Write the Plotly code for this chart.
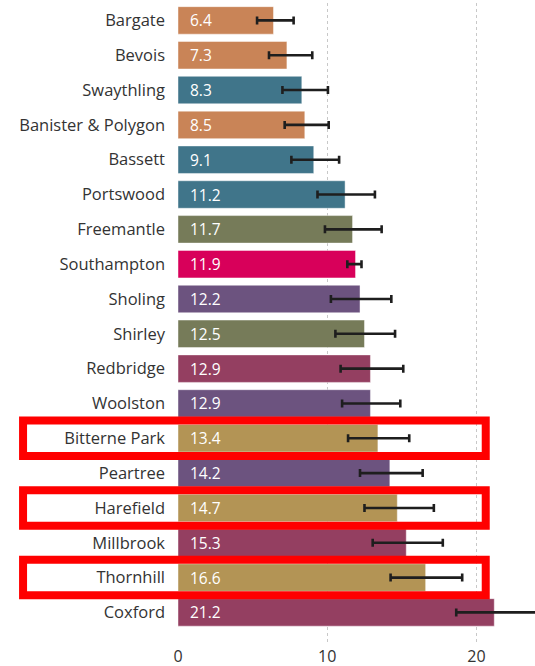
import plotly.graph_objects as go

wards = ["Bargate", "Bevois", "Swaythling", "Banister & Polygon", "Bassett", "Portswood",
         "Freemantle", "Southampton", "Sholing", "Shirley", "Redbridge", "Woolston",
         "Bitterne Park", "Peartree", "Harefield", "Millbrook", "Thornhill", "Coxford"]
values = [6.4, 7.3, 8.3, 8.5, 9.1, 11.2, 11.7, 11.9, 12.2, 12.5, 12.9, 12.9,
          13.4, 14.2, 14.7, 15.3, 16.6, 21.2]
ci_low = [5.3, 6.1, 7.0, 7.15, 7.6, 9.35, 9.85, 11.35, 10.25, 10.55, 10.9, 11.0,
          11.4, 12.2, 12.5, 13.05, 14.25, 18.65]
ci_high = [7.75, 9.0, 10.05, 10.1, 10.8, 13.2, 13.65, 12.3, 14.3, 14.55, 15.1, 14.9,
           15.5, 16.4, 17.15, 17.75, 19.05, 24.6]
groups = ["orange", "orange", "teal", "orange", "teal", "teal", "olive", "pink", "purple",
          "olive", "maroon", "purple", "gold", "purple", "gold", "maroon", "gold", "maroon"]
highlighted = ["Bitterne Park", "Harefield", "Thornhill"]
x_ticks = [0, 10, 20]

palette = {"orange": "#C98457", "teal": "#40758A", "olive": "#767B59", "pink": "#D8005A",
           "purple": "#6C537F", "maroon": "#943F61", "gold": "#B39455"}

FONT = "Open Sans"

fig = go.Figure()
fig.add_trace(go.Bar(
    y=wards, x=values, orientation="h",
    marker=dict(color=[palette[g] for g in groups],
                line=dict(color="rgba(255,255,255,0.45)", width=1)),
    error_x=dict(type="data", symmetric=False,
                 array=[h - v for h, v in zip(ci_high, values)],
                 arrayminus=[v - l for l, v in zip(ci_low, values)],
                 color="#1e1e1e", thickness=2.6, width=4),
    hoverinfo="skip",
))

for w, v in zip(wards, values):
    fig.add_annotation(x=0, y=w, xref="x", yref="y", text=f"{v:.1f}", showarrow=False,
                       xanchor="left", yanchor="middle", xshift=10,
                       font=dict(family=FONT, size=15.5, color="white"))

for w in highlighted:
    i = wards.index(w)
    fig.add_shape(type="rect", xref="paper", yref="y",
                  x0=-0.434, x1=0.862, y0=i - 0.51, y1=i + 0.51,
                  line=dict(color="#FF0000", width=8), fillcolor="rgba(0,0,0,0)",
                  layer="above")

fig.update_layout(
    width=535, height=666,
    margin=dict(l=178, r=0, t=3, b=24),
    paper_bgcolor="white", plot_bgcolor="white",
    bargap=0.21, showlegend=False,
    font=dict(family=FONT),
    xaxis=dict(range=[0, 23.93], tickvals=x_ticks, ticktext=[str(t) for t in x_ticks],
               showgrid=True, gridcolor="#C8C8C8", griddash="dot", gridwidth=1,
               zeroline=False, showline=False, ticks="",
               ticklabelstandoff=3,
               tickfont=dict(family=FONT, size=16, color="#333333")),
    yaxis=dict(range=[len(wards) - 0.15, -0.5], showgrid=False, zeroline=False,
               showline=False, ticks="", ticklabelstandoff=12,
               categoryorder="array", categoryarray=wards,
               tickfont=dict(family=FONT, size=16.5, color="#333333")),
)

fig.write_html("out.html", config={"displayModeBar": False},
               post_script="document.body.style.margin='0';")
